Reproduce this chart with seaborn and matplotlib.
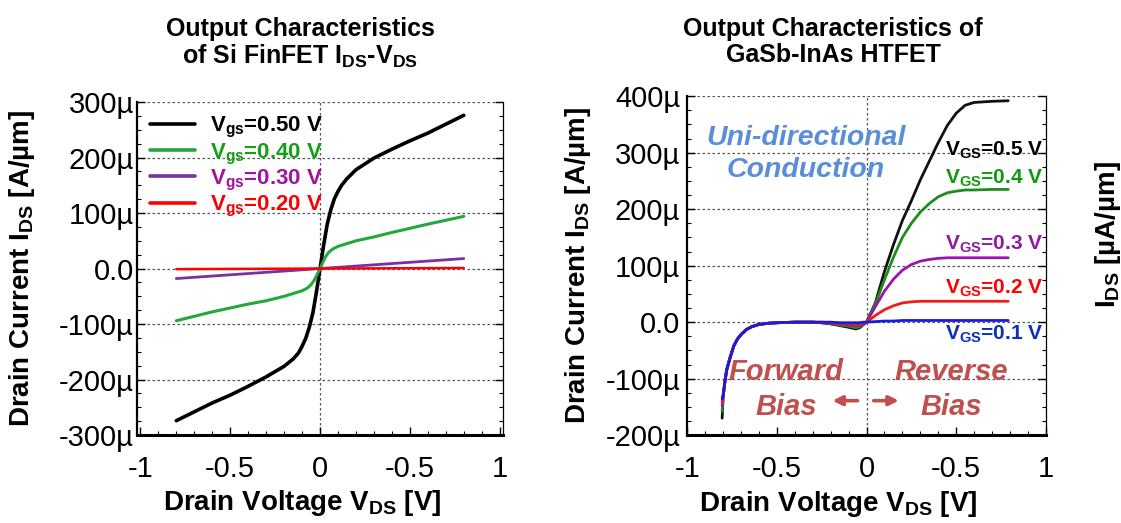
import matplotlib
matplotlib.use("Agg")
import matplotlib.pyplot as plt
from matplotlib.ticker import MultipleLocator, AutoMinorLocator
import seaborn as sns
import pandas as pd

# =============================================================================
# DATA (currents in uA/um)
# =============================================================================
# --- Si FinFET ---
fin_v_050 = [-0.8, -0.7, -0.6, -0.5, -0.4, -0.3, -0.2, -0.15, -0.12, -0.1, -0.08, -0.06, -0.04, -0.02,
             0.0, 0.02, 0.04, 0.06, 0.08, 0.1, 0.12, 0.15, 0.2, 0.3, 0.4, 0.5, 0.6, 0.7, 0.8]
fin_i_050 = [-274, -258, -242, -228, -212, -195, -176, -163, -152, -140, -126, -106, -80, -42,
             0, 42, 80, 106, 126, 139, 150, 162, 178, 199, 215, 230, 244, 260, 276]
fin_v_040 = [-0.8, -0.6, -0.4, -0.3, -0.2, -0.1, -0.07, -0.05, -0.03, -0.015, 0.0,
             0.015, 0.03, 0.05, 0.07, 0.1, 0.2, 0.3, 0.4, 0.6, 0.8]
fin_i_040 = [-94, -78, -64, -58, -50, -40, -35, -29, -20, -10, 0,
             11, 21, 30, 35, 40, 50, 57, 65, 80, 94]
fin_v_030 = [-0.8, -0.4, 0.0, 0.4, 0.8]
fin_i_030 = [-18, -9, 0, 9, 18]
fin_v_020 = [-0.8, 0.0, 0.8]
fin_i_020 = [-1, 0, 1]

fin_labels = ["V$_{gs}$=0.50 V", "V$_{gs}$=0.40 V", "V$_{gs}$=0.30 V", "V$_{gs}$=0.20 V"]
fin_colors = ["#000000", "#22a83c", "#7a2fa2", "#ff0000"]
fin_text_colors = ["#000000", "#14a014", "#a014a0", "#ff0000"]

# --- GaSb-InAs HTFET ---
tfet_v = [-0.805, -0.80, -0.79, -0.78, -0.76, -0.74, -0.72, -0.70, -0.67, -0.64, -0.60, -0.55, -0.50,
          -0.40, -0.30, -0.25, -0.20, -0.15, -0.10, -0.06, -0.04, -0.02,
          0.0, 0.05, 0.10, 0.15, 0.20, 0.25, 0.30, 0.35, 0.40, 0.45, 0.50, 0.55, 0.60, 0.70, 0.79]
tfet_i_05 = [-170, -135, -106, -85, -62, -42, -30, -22, -13, -8, -4, -2, -1,
             0, 0, -1, -3, -6, -9, -12, -10, -5,
             0, 35, 90, 137, 180, 215, 252, 285, 318, 348, 370, 384, 389, 391, 392]
tfet_i_04 = [-158, -133, -106, -85, -62, -42, -30, -22, -13, -8, -4, -2, -1,
             0, 0, -1, -2, -5, -7, -10, -8, -4,
             0, 33, 75, 115, 150, 175, 195, 210, 222, 229, 232, 234, 234, 235, 235]
tfet_i_03 = [-148, -132, -106, -85, -62, -42, -30, -22, -13, -8, -4, -2, -1,
             0, 0, -1, -2, -3, -5, -6, -5, -3,
             0, 28, 55, 76, 92, 102, 108, 111, 113, 114, 114, 114, 114, 114, 114]
tfet_i_02 = [-142, -131, -106, -85, -62, -42, -30, -22, -13, -8, -4, -2, -1,
             0, 0, 0, -1, -2, -3, -4, -3, -2,
             0, 12, 22, 29, 34, 36, 37, 37, 37, 37, 37, 37, 37, 37, 37]
tfet_i_01 = [-136, -130, -106, -85, -62, -42, -30, -22, -13, -8, -4, -2, -1,
             0, 0, 0, 0, -1, -1, -1, -1, 0,
             0, 1, 2, 2, 3, 3, 3, 3, 3, 3, 3, 3, 3, 3, 3]

tfet_labels = ["V$_{GS}$=0.5 V", "V$_{GS}$=0.4 V", "V$_{GS}$=0.3 V", "V$_{GS}$=0.2 V", "V$_{GS}$=0.1 V"]
tfet_colors = ["#111111", "#1e8c1e", "#9a16a6", "#ee1c1c", "#1a1ae0"]
tfet_text_colors = ["#000000", "#0e9a0e", "#8e1a9e", "#ff0000", "#0b2fb8"]
tfet_label_v = [0.437, 0.437, 0.437, 0.437, 0.437]
tfet_label_i = [305, 255, 137, 60, -21]

x_ticks = [-1, -0.5, 0, 0.5, 1]
x_ticklabels = ["-1", "-0.5", "0", "-0.5", "1"]
fin_y_ticks = [-300, -200, -100, 0, 100, 200, 300]
fin_y_ticklabels = ["-300µ", "-200µ", "-100µ", "0.0", "100µ", "200µ", "300µ"]
tfet_y_ticks = [-200, -100, 0, 100, 200, 300, 400]
tfet_y_ticklabels = ["-200µ", "-100µ", "0.0", "100µ", "200µ", "300µ", "400µ"]

# =============================================================================
# STYLE
# =============================================================================
sns.set_theme(style="white")
plt.rcParams["font.family"] = ["Liberation Sans", "DejaVu Sans"]
plt.rcParams["mathtext.fontset"] = "custom"
plt.rcParams["mathtext.rm"] = "Liberation Sans:bold"
plt.rcParams["mathtext.bf"] = "Liberation Sans:bold"
plt.rcParams["mathtext.it"] = "Liberation Sans:bold"
plt.rcParams["mathtext.default"] = "bf"
for key in ["text.color", "axes.labelcolor", "xtick.color", "ytick.color", "axes.edgecolor"]:
    plt.rcParams[key] = "black"

TICK_SIZE = 21
LABEL_SIZE = 20
TITLE_SIZE = 18
BIAS_COLOR = "#c0504d"

fig = plt.figure(figsize=(11.21, 5.23), dpi=100)
ax_fin = fig.add_axes([0.122, 0.168, 0.327, 0.637])
ax_tfet = fig.add_axes([0.613, 0.168, 0.320, 0.648])


def style_axes(ax, y_ticks, y_ticklabels, ylim):
    ax.set_xlim(-1.02, 1.02)
    ax.set_ylim(*ylim)
    ax.set_xticks(x_ticks)
    ax.set_xticklabels(x_ticklabels)
    ax.set_yticks(y_ticks)
    ax.set_yticklabels(y_ticklabels)
    ax.xaxis.set_minor_locator(MultipleLocator(0.1))
    ax.yaxis.set_minor_locator(AutoMinorLocator(4))
    ax.tick_params(axis="both", which="both", direction="in", colors="black")
    ax.tick_params(axis="x", which="major", length=6, width=1, labelsize=TICK_SIZE, pad=14,
                   bottom=True, top=False)
    ax.tick_params(axis="x", which="minor", length=3, width=0.8, bottom=True, top=False)
    ax.tick_params(axis="y", which="major", length=6, width=1, labelsize=TICK_SIZE, pad=2,
                   left=True, right=True)
    ax.tick_params(axis="y", which="minor", length=3, width=0.8, left=True, right=True)
    for yt in y_ticks:
        ax.axhline(yt, color="#555555", lw=0.9, ls=(0, (2, 2)), zorder=0)
    ax.axvline(0, color="#555555", lw=0.9, ls=(0, (2, 2)), zorder=0)
    ax.spines["top"].set_visible(False)
    ax.spines["left"].set_linewidth(1.6)
    ax.spines["bottom"].set_linewidth(2.2)
    ax.spines["right"].set_linewidth(0.9)
    for s in ["left", "bottom", "right"]:
        ax.spines[s].set_color("black")
    ax.grid(False)


# =============================================================================
# LEFT: Si FinFET
# =============================================================================
fin_v = [fin_v_050, fin_v_040, fin_v_030, fin_v_020]
fin_i = [fin_i_050, fin_i_040, fin_i_030, fin_i_020]
fin_lw = [2.6, 2.2, 2.0, 1.8]
for v, i, lab, col, lw in zip(fin_v, fin_i, fin_labels, fin_colors, fin_lw):
    df = pd.DataFrame({"V": v, "I": i})
    sns.lineplot(data=df, x="V", y="I", ax=ax_fin, color=col, lw=lw, label=lab,
                 sort=False, estimator=None)

style_axes(ax_fin, fin_y_ticks, fin_y_ticklabels, (-300, 300))
leg = ax_fin.legend(loc="upper left", frameon=False, prop={"size": 16, "weight": "bold"},
                    handlelength=2.0, handletextpad=0.7, labelspacing=0.05,
                    borderaxespad=0.3, borderpad=0.3)
for txt, c in zip(leg.get_texts(), fin_text_colors):
    txt.set_color(c)
for h in leg.legend_handles:
    h.set_linewidth(2.6)

ax_fin.set_xlabel("Drain Voltage V$_{DS}$ [V]", fontsize=LABEL_SIZE, fontweight="bold")
ax_fin.set_ylabel("Drain Current I$_{DS}$ [A/µm]", fontsize=LABEL_SIZE, fontweight="bold")
ax_fin.xaxis.set_label_coords(0.45, -0.16)
ax_fin.yaxis.set_label_coords(-0.272, 0.5)

# =============================================================================
# RIGHT: GaSb-InAs HTFET
# =============================================================================
tfet_i = [tfet_i_05, tfet_i_04, tfet_i_03, tfet_i_02, tfet_i_01]
for i, col in zip(tfet_i, tfet_colors):
    df = pd.DataFrame({"V": tfet_v, "I": i})
    sns.lineplot(data=df, x="V", y="I", ax=ax_tfet, color=col, lw=2.0,
                 sort=False, estimator=None, legend=False)

style_axes(ax_tfet, tfet_y_ticks, tfet_y_ticklabels, (-200, 400))
ax_tfet.set_xlim(-1.0, 1.0)
ax_tfet.tick_params(axis="y", which="major", pad=5)

for lab, c, xv, yv in zip(tfet_labels, tfet_text_colors, tfet_label_v, tfet_label_i):
    ax_tfet.text(xv, yv, lab, color=c, fontsize=15, fontweight="bold", ha="left", va="center")

ax_tfet.text(-0.34, 298, "Uni-directional\nConduction", color="#5a8fd8", fontsize=20.5,
             fontweight="bold", fontstyle="italic", ha="center", va="center", linespacing=1.3)
ax_tfet.text(-0.45, -120, "Forward\nBias", color=BIAS_COLOR, fontsize=21,
             fontweight="bold", fontstyle="italic", ha="center", va="center", linespacing=1.32)
ax_tfet.text(0.47, -120, "Reverse\nBias", color=BIAS_COLOR, fontsize=21,
             fontweight="bold", fontstyle="italic", ha="center", va="center", linespacing=1.32)
# direction arrows between the two bias labels
ax_tfet.annotate("", xy=(-0.19, -139), xytext=(-0.05, -139),
                 arrowprops=dict(arrowstyle="-|>", color=BIAS_COLOR, lw=2.6, mutation_scale=14,
                                 shrinkA=0, shrinkB=0))
ax_tfet.annotate("", xy=(0.18, -139), xytext=(0.04, -139),
                 arrowprops=dict(arrowstyle="-|>", color=BIAS_COLOR, lw=2.6, mutation_scale=14,
                                 shrinkA=0, shrinkB=0))

ax_tfet.set_xlabel("Drain Voltage V$_{DS}$ [V]", fontsize=LABEL_SIZE, fontweight="bold")
ax_tfet.set_ylabel("Drain Current I$_{DS}$ [A/µm]", fontsize=LABEL_SIZE, fontweight="bold")
ax_tfet.xaxis.set_label_coords(0.42, -0.16)
ax_tfet.yaxis.set_label_coords(-0.262, 0.5)

# =============================================================================
# TITLES AND CUT-OFF LABEL OF A THIRD PANEL
# =============================================================================
fig.text(300 / 1121, 0.968, "Output Characteristics\nof Si FinFET I$_{DS}$-V$_{DS}$",
         fontsize=TITLE_SIZE, fontweight="bold", ha="center", va="top", linespacing=1.1)
fig.text(833 / 1121, 0.968, "Output Characteristics of\nGaSb-InAs HTFET",
         fontsize=TITLE_SIZE, fontweight="bold", ha="center", va="top", linespacing=1.1)
fig.text(1093 / 1121, 0.551, "I$_{DS}$ [µA/µm]", fontsize=LABEL_SIZE, fontweight="bold",
         rotation=90, ha="left", va="center")

fig.savefig("out.png", dpi=100)
plt.close(fig)
